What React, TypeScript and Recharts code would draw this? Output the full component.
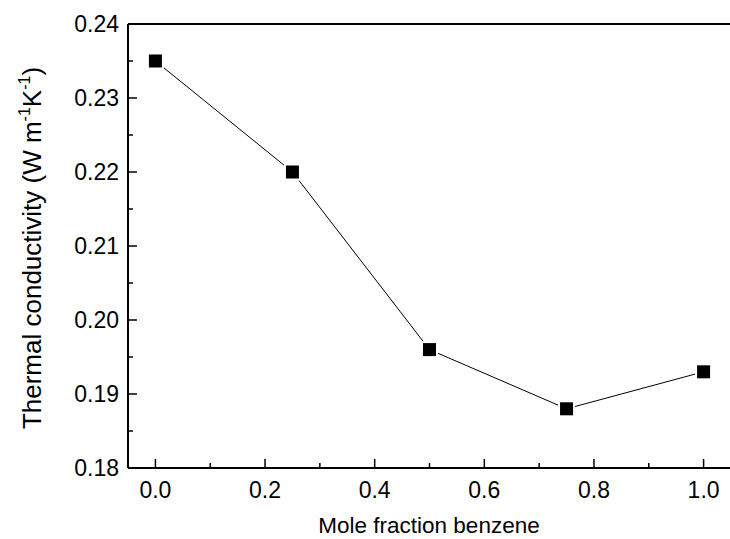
import { Line, LineChart, ReferenceLine, XAxis, YAxis } from "recharts"

const moleFraction = [0.0, 0.25, 0.5, 0.75, 1.0]
const conductivity = [0.235, 0.22, 0.196, 0.188, 0.193]

const xTicks = [0.0, 0.1, 0.2, 0.3, 0.4, 0.5, 0.6, 0.7, 0.8, 0.9, 1.0]
const yTicks = [0.18, 0.185, 0.19, 0.195, 0.2, 0.205, 0.21, 0.215, 0.22, 0.225, 0.23, 0.235, 0.24]

const data = moleFraction.map((x, i) => ({ x, k: conductivity[i] }))

const font = "'Liberation Sans', Arial, sans-serif"

function XTick(props: any) {
    const { x, y, payload } = props
    const major = Math.round(payload.value * 10) % 2 === 0
    return (
        <g>
            <line x1={x} y1={y} x2={x} y2={y - (major ? 9 : 5)} stroke="#000" strokeWidth={1.5} />
            {major && (
                <text x={x} y={y + 30} textAnchor="middle" fontSize={23} fontFamily={font} fill="#000">
                    {payload.value.toFixed(1)}
                </text>
            )}
        </g>
    )
}

function YTick(props: any) {
    const { x, y, payload } = props
    const major = Math.round(payload.value * 1000) % 10 === 0
    return (
        <g>
            <line x1={x} y1={y} x2={x + (major ? 9 : 5)} y2={y} stroke="#000" strokeWidth={1.5} />
            {major && (
                <text x={x - 9} y={y + 8} textAnchor="end" fontSize={23} fontFamily={font} fill="#000">
                    {payload.value.toFixed(2)}
                </text>
            )}
        </g>
    )
}

function Square(props: any) {
    const { cx, cy } = props
    return (
        <g>
            <rect x={cx - 8.5} y={cy - 8.5} width={17} height={17} fill="#fff" />
            <rect x={cx - 6.5} y={cy - 6.5} width={13} height={13} fill="#000" />
        </g>
    )
}

export default function App() {
    return (
        <div style={{ position: "absolute", left: 0, top: 0, width: 730, height: 539, overflow: "hidden", background: "#fff" }}>
            <LineChart width={740} height={539} data={data} margin={{ top: 24, right: 9, left: 0, bottom: 0 }}>
                <XAxis
                    dataKey="x"
                    type="number"
                    domain={[-0.05, 1.05]}
                    ticks={xTicks}
                    interval={0}
                    height={71}
                    tickSize={0}
                    tickMargin={0}
                    tickLine={false}
                    tick={<XTick />}
                    axisLine={{ stroke: "#000", strokeWidth: 2 }}
                />
                <YAxis
                    type="number"
                    domain={[0.18, 0.24]}
                    ticks={yTicks}
                    interval={0}
                    width={128}
                    tickSize={0}
                    tickMargin={0}
                    tickLine={false}
                    tick={<YTick />}
                    axisLine={{ stroke: "#000", strokeWidth: 2 }}
                    allowDataOverflow
                />
                <ReferenceLine y={0.24} stroke="#000" strokeWidth={2} />
                <Line
                    dataKey="k"
                    stroke="#000"
                    strokeWidth={1}
                    dot={<Square />}
                    activeDot={false}
                    isAnimationActive={false}
                />
                <text x={429} y={533} textAnchor="middle" fontSize={22.5} fontFamily={font} fill="#000">
                    Mole fraction benzene
                </text>
                <text
                    x={41}
                    y={248}
                    transform="rotate(-90 41 248)"
                    textAnchor="middle"
                    fontSize={26}
                    fontFamily={font}
                    fill="#000"
                >
                    Thermal conductivity (W m
                    <tspan fontSize={16} dy={-11}>-1</tspan>
                    <tspan dy={11}>K</tspan>
                    <tspan fontSize={16} dy={-11}>-1</tspan>
                    <tspan dy={11}>)</tspan>
                </text>
            </LineChart>
        </div>
    )
}
